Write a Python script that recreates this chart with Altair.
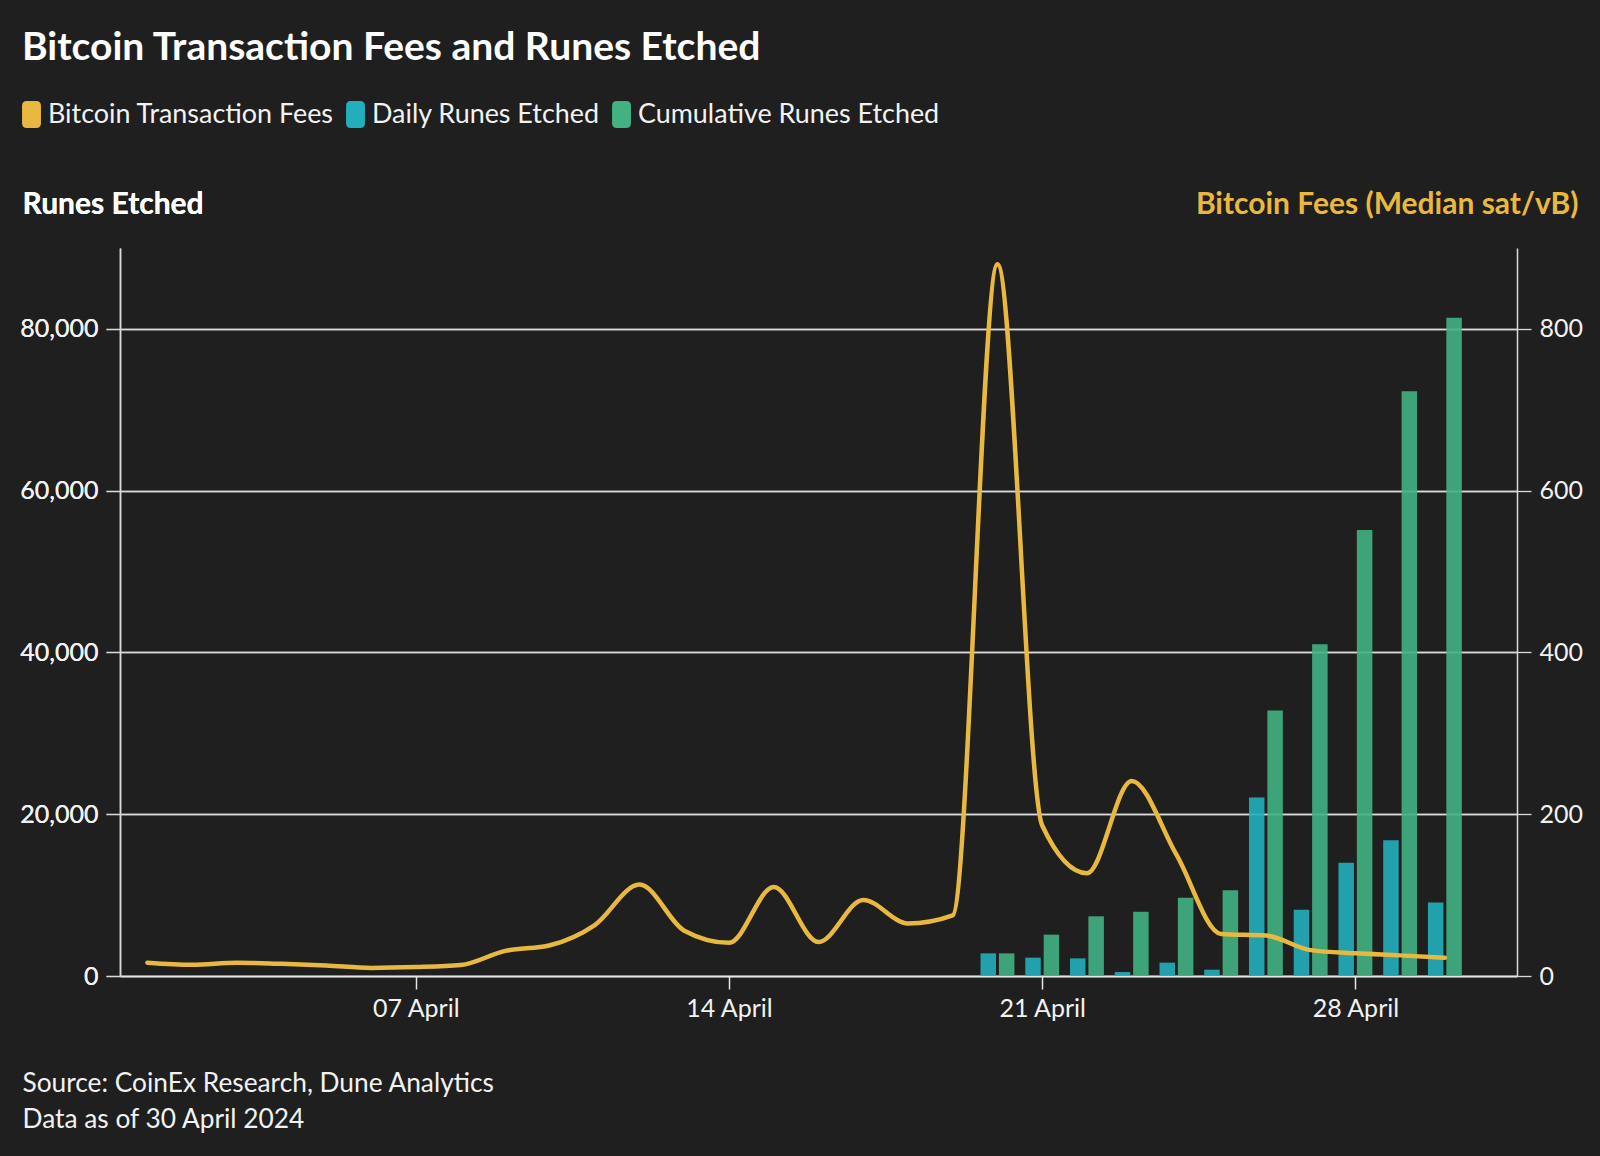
import altair as alt
import pandas as pd

# ---------------- data ----------------
fee_dates = ["2024-04-01", "2024-04-02", "2024-04-03", "2024-04-04", "2024-04-05",
             "2024-04-06", "2024-04-07", "2024-04-08", "2024-04-09", "2024-04-10",
             "2024-04-11", "2024-04-12", "2024-04-13", "2024-04-14", "2024-04-15",
             "2024-04-16", "2024-04-17", "2024-04-18", "2024-04-19", "2024-04-20",
             "2024-04-21", "2024-04-22", "2024-04-23", "2024-04-24", "2024-04-25",
             "2024-04-26", "2024-04-27", "2024-04-28", "2024-04-29", "2024-04-30"]
fee_values = [16.5, 14, 16.5, 15, 13, 10, 11, 13.5, 31, 38,
              63, 113, 56, 41, 110, 42, 94, 65, 75, 880,
              186, 127, 241, 150, 52, 50, 32, 28, 25.5, 22.5]

rune_dates = ["2024-04-20", "2024-04-21", "2024-04-22", "2024-04-23", "2024-04-24",
              "2024-04-25", "2024-04-26", "2024-04-27", "2024-04-28", "2024-04-29",
              "2024-04-30"]
daily_runes = [2800, 2270, 2180, 490, 1650, 780, 22080, 8200, 14000, 16780, 9080]
cumulative_runes = [2800, 5110, 7380, 7950, 9680, 10590, 32810, 41010, 55140, 72300, 81390]

series_names = ["Bitcoin Transaction Fees", "Daily Runes Etched", "Cumulative Runes Etched"]
series_colors = ["#E9B840", "#22AEBB", "#42B183"]

x_tick_dates = ["2024-04-07", "2024-04-14", "2024-04-21", "2024-04-28"]
left_ticks = [0, 20000, 40000, 60000, 80000]
right_ticks = [0, 200, 400, 600, 800]

title_text = "Bitcoin Transaction Fees and Runes Etched"
left_title = "Runes Etched"
right_title = "Bitcoin Fees (Median sat/vB)"
footer_lines = ["Source: CoinEx Research, Dune Analytics", "Data as of 30 April 2024"]

# ---------------- tables ----------------
fees_df = pd.DataFrame({"date": fee_dates, "fee": fee_values})
daily_df = pd.DataFrame({"date": rune_dates, "value": daily_runes,
                         "series": series_names[1]})
cum_df = pd.DataFrame({"date": rune_dates, "value": cumulative_runes,
                       "series": series_names[2]})

FONT = "Lato"
BG = "#1f1f1f"
WHITE = "#f2f2f2"
YELLOW = series_colors[0]
TICK_FS = 25


def dt(s, h=0):
    y, m, d = (int(p) for p in s.split("-"))
    return alt.DateTime(year=y, month=m, date=d, hours=h, utc=True)


x_enc = alt.X(
    "date:T",
    scale=alt.Scale(type="utc", domain=[dt("2024-03-31", 12), dt("2024-05-01", 12)]),
    axis=alt.Axis(
        values=[dt(s) for s in x_tick_dates],
        format="%d %B",
        grid=False,
        domainColor="#e6e6e6",
        domainWidth=1.5,
        tickColor="#e6e6e6",
        tickSize=13,
        tickWidth=1.5,
        labelFontSize=TICK_FS,
        labelColor=WHITE,
        labelPadding=7,
        labelFont=FONT,
        title=footer_lines,
        titleFont=FONT,
        titleFontSize=26.3,
        titleFontWeight="normal",
        titleColor=WHITE,
        titleAlign="left",
        titleBaseline="alphabetic",
        titleX=-98,
        titleY=115,
        titleLineHeight=36.5,
    ),
)

y_left = alt.Y(
    "value:Q",
    scale=alt.Scale(domain=[0, 90000], nice=False),
    axis=alt.Axis(
        orient="left",
        values=left_ticks,
        format=",.0f",
        grid=True,
        gridColor="#d9d9d9",
        gridWidth=1.3,
        domainColor="#d9d9d9",
        domainWidth=1.5,
        tickColor="#d9d9d9",
        tickSize=14,
        tickWidth=1.3,
        labelFontSize=TICK_FS,
        labelColor=WHITE,
        labelPadding=8,
        labelFont=FONT,
        title=left_title,
        titleFont=FONT,
        titleFontSize=30,
        titleFontWeight="bold",
        titleColor="#ffffff",
        titleAngle=0,
        titleAlign="left",
        titleBaseline="alphabetic",
        titleX=-98,
        titleY=-34.5,
    ),
)

color_enc = alt.Color(
    "series:N",
    scale=alt.Scale(domain=series_names, range=series_colors),
    legend=alt.Legend(
        orient="none",
        legendX=-102,
        legendY=-147,
        direction="horizontal",
        title=None,
        symbolType="M -0.35 -1 L 0.35 -1 Q 0.7 -1 0.7 -0.65 L 0.7 0.65 Q 0.7 1 0.35 1 "
                   "L -0.35 1 Q -0.7 1 -0.7 0.65 L -0.7 -0.65 Q -0.7 -1 -0.35 -1 Z",
        symbolSize=729,
        symbolStrokeWidth=0,
        symbolOpacity=1,
        labelFont=FONT,
        labelFontSize=26.9,
        labelColor=WHITE,
        labelOffset=3,
        labelLimit=500,
        columnPadding=8,
        padding=0,
    ),
)

daily_bars = alt.Chart(daily_df).mark_bar(size=15.5, xOffset=-9.2, opacity=0.9).encode(
    x=x_enc, y=y_left, color=color_enc
)
cum_bars = alt.Chart(cum_df).mark_bar(size=15.5, xOffset=9.2, opacity=0.9).encode(
    x=x_enc, y=y_left, color=color_enc
)

fee_line = alt.Chart(fees_df).mark_line(
    interpolate="monotone", strokeWidth=4.5, color=YELLOW, strokeCap="round", strokeJoin="round"
).encode(
    x=x_enc,
    y=alt.Y(
        "fee:Q",
        scale=alt.Scale(domain=[0, 900], nice=False),
        axis=alt.Axis(
            orient="right",
            values=right_ticks,
            grid=False,
            domainColor="#d9d9d9",
            domainWidth=1.5,
            tickColor="#d9d9d9",
            tickSize=14,
            tickWidth=1.3,
            labelFontSize=TICK_FS,
            labelColor=WHITE,
            labelPadding=8,
            labelFont=FONT,
            title=right_title,
            titleFont=FONT,
            titleFontSize=30,
            titleFontWeight="bold",
            titleColor=YELLOW,
            titleAngle=0,
            titleAlign="right",
            titleBaseline="alphabetic",
            titleX=61,
            titleY=-34.5,
        ),
    ),
)

chart = (
    alt.layer(daily_bars, cum_bars, fee_line)
    .resolve_scale(y="independent")
    .properties(
        width=1397,
        height=728,
        background=BG,
        padding={"left": 120, "top": 248, "right": 83, "bottom": 180},
        autosize=alt.AutoSizeParams(type="none"),
        title=alt.TitleParams(
            title_text,
            anchor="start",
            frame="group",
            dx=-98,
            dy=-2,
            fontSize=39,
            fontWeight="bold",
            font=FONT,
            color="#ffffff",
            baseline="alphabetic",
            offset=0,
        ),
    )
    .configure_view(stroke=None)
)

chart.save("out.html", embed_options={"renderer": "svg", "actions": False})
